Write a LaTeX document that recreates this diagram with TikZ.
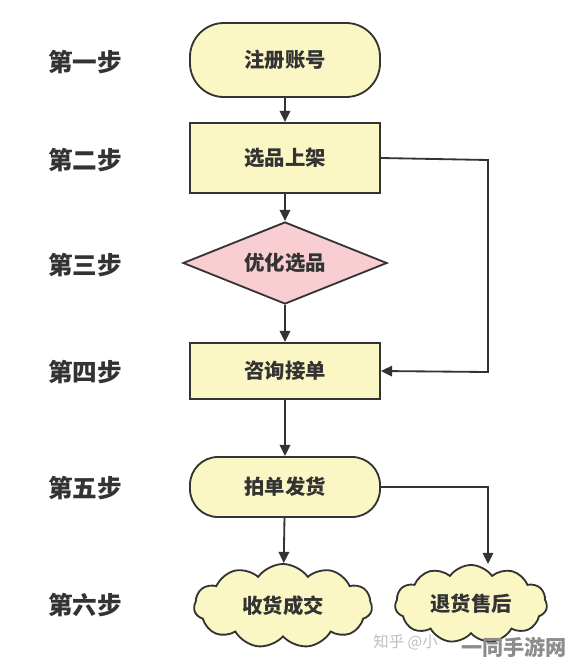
\documentclass[tikz,border=0pt]{standalone}
\usepackage{fontspec}
\usepackage{tikz}
\usetikzlibrary{arrows.meta,shapes.geometric,shapes.symbols}
\newfontfamily\cjk{Noto Sans CJK SC}
\definecolor{boxfill}{RGB}{251,247,196}
\definecolor{diafill}{RGB}{248,206,210}
\definecolor{edge}{RGB}{51,51,51}

\tikzset{
  stepbox/.style={draw=edge, line width=1.3pt, fill=boxfill, minimum width=4.75cm, minimum height=1.75cm, font=\cjk\bfseries\fontsize{14.5}{16}\selectfont, text=edge},
  roundbox/.style={stepbox, rounded corners=0.85cm},
  choice/.style={diamond, draw=edge, line width=1.3pt, fill=diafill, aspect=2.48, inner sep=0pt, minimum width=5.1cm, minimum height=2.05cm, font=\cjk\bfseries\fontsize{14.5}{16}\selectfont, text=edge},
  puff/.style={cloud, cloud puffs=11, cloud puff arc=110, draw=edge, line width=1.3pt, fill=boxfill, aspect=2.2, font=\cjk\bfseries\fontsize{14.5}{16}\selectfont, text=edge},
  steplabel/.style={font=\cjk\bfseries\fontsize{17.5}{20}\selectfont, text=edge},
  flow/.style={draw=edge, line width=1.3pt, -{Triangle[length=8pt,width=7.5pt]}}
}

\begin{document}
\begin{tikzpicture}[x=0.025cm, y=-0.025cm]
  \useasboundingbox[fill=white] (0,0) rectangle (570,666);

  % step labels
  \node[steplabel] (s1) at (85,62) {第一步};
  \node[steplabel] (s2) at (85,160) {第二步};
  \node[steplabel] (s3) at (85,265) {第三步};
  \node[steplabel] (s4) at (85,372) {第四步};
  \node[steplabel] (s5) at (85,488) {第五步};
  \node[steplabel] (s6) at (85,605) {第六步};

  % flow
  \node[roundbox, minimum height=1.85cm] (reg) at (285,60) {注册账号};
  \node[stepbox] (list) at (285,158) {选品上架};
  \node[choice] (opt) at (285,263) {优化选品};
  \node[stepbox, minimum height=1.4cm] (ask) at (285,371) {咨询接单};
  \node[roundbox, minimum height=1.5cm, rounded corners=0.7cm] (ship) at (285,487) {拍单发货};
  \node[puff, minimum width=4.45cm, minimum height=2.1cm] (deal) at (283,606) {收货成交};
  \node[puff, minimum width=3.8cm, minimum height=1.95cm] (back) at (471,604) {退货售后};

  \coordinate (r1) at (488,160);
  \coordinate (r2) at (488,372);
  \coordinate (r3) at (488,487);

  \draw[flow] (reg) -- (list);
  \draw[flow] (list) -- (opt);
  \draw[flow] (opt) -- (ask);
  \draw[flow] (ask) -- (ship);
  \draw[flow] (ship) -- (deal);
  \draw[flow] (list.east) -- (r1) -- (r2) -- (ask.east);
  \draw[flow] (ship.east) -- (r3) -- (back.north -| r3);

  % watermark
  \node[font=\cjk\fontsize{11}{12}\selectfont, text=black!25, anchor=west, inner sep=0pt] (wm1) at (373,642) {知乎 @小};
  \node[font=\cjk\bfseries\fontsize{15}{16}\selectfont, text=black!45, anchor=east, inner sep=0pt] (wm2) at (567,647) {一同手游网};
\end{tikzpicture}
\end{document}
